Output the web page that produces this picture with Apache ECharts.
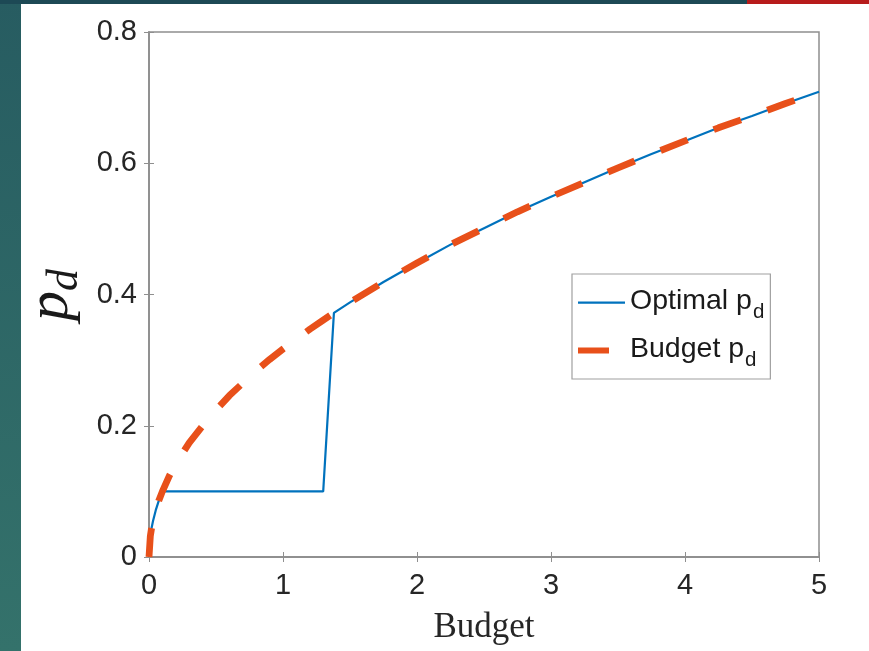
<!DOCTYPE html>
<html>
<head>
<meta charset="utf-8">
<script src="https://cdn.jsdelivr.net/npm/echarts@6/dist/echarts.min.js"></script>
<style>
html,body{margin:0;padding:0;background:#fff;}
#c{width:869px;height:651px;}
</style>
</head>
<body>
<div id="c"></div>
<script>
// Data
var optimalX = [0, 0.01, 0.02, 0.03, 0.05, 0.075, 0.1, 1.3, 1.38, 1.5, 1.75, 2, 2.25, 2.5, 2.75, 3, 3.25, 3.5, 3.75, 4, 4.25, 4.5, 4.75, 5];
var optimalY = [0, 0.032, 0.045, 0.055, 0.071, 0.087, 0.1, 0.1, 0.372, 0.388, 0.419, 0.448, 0.476, 0.501, 0.526, 0.549, 0.571, 0.593, 0.614, 0.634, 0.654, 0.672, 0.691, 0.709];
var budgetX = [0, 0.01, 0.02, 0.03, 0.05, 0.075, 0.1, 0.15, 0.2, 0.3, 0.4, 0.5, 0.6, 0.7, 0.8, 0.9, 1, 1.1, 1.2, 1.3, 1.38, 1.5, 1.75, 2, 2.25, 2.5, 2.75, 3, 3.25, 3.5, 3.75, 4, 4.25, 4.5, 4.75, 5];
var budgetY = [0, 0.032, 0.045, 0.055, 0.071, 0.087, 0.1, 0.123, 0.142, 0.174, 0.2, 0.224, 0.246, 0.265, 0.284, 0.301, 0.317, 0.332, 0.347, 0.361, 0.372, 0.388, 0.419, 0.448, 0.476, 0.501, 0.526, 0.549, 0.571, 0.593, 0.614, 0.634, 0.654, 0.672, 0.691, 0.709];
var xTicks = [0, 1, 2, 3, 4, 5];
var yTicks = [0, 0.2, 0.4, 0.6, 0.8];
var seriesNames = ['Optimal', 'Budget'];
var xLabel = 'Budget';

function pairs(xs, ys) { return xs.map(function (x, i) { return [x, ys[i]]; }); }

var chart = echarts.init(document.getElementById('c'), null, {renderer: 'canvas'});
var tickFont = {fontFamily: 'Liberation Sans, Arial, sans-serif', fontSize: 29, color: '#262626'};
var axisCol = '#8f8f8f';
var blue = '#0072BD', orange = '#E8501A';

chart.setOption({
  backgroundColor: '#ffffff',
  animation: false,
  grid: {left: 149, right: 50, top: 32, bottom: 94, show: true, borderColor: axisCol, borderWidth: 1.5},
  xAxis: [{
    type: 'value', min: xTicks[0], max: xTicks[xTicks.length - 1], interval: 1,
    axisLine: {show: true, lineStyle: {color: axisCol, width: 1.5}},
    axisTick: {show: true, inside: true, length: 5, lineStyle: {color: axisCol}},
    splitLine: {show: false},
    axisLabel: Object.assign({margin: 14}, tickFont),
    name: xLabel, nameLocation: 'middle', nameGap: 53,
    nameTextStyle: {fontFamily: 'Liberation Serif, Times New Roman, serif', fontSize: 35, color: '#262626'}
  }, {
    type: 'value', position: 'top', min: xTicks[0], max: xTicks[xTicks.length - 1], interval: 1,
    axisLine: {show: true, lineStyle: {color: axisCol, width: 1.5}},
    axisTick: {show: true, inside: true, length: 5, lineStyle: {color: axisCol}},
    axisLabel: {show: false}, splitLine: {show: false}
  }],
  yAxis: [{
    type: 'value', min: yTicks[0], max: yTicks[yTicks.length - 1], interval: 0.2,
    axisLine: {show: true, lineStyle: {color: axisCol, width: 1.5}},
    axisTick: {show: true, inside: true, length: 5, lineStyle: {color: axisCol}},
    splitLine: {show: false},
    axisLabel: Object.assign({margin: 12}, tickFont)
  }, {
    type: 'value', position: 'right', min: yTicks[0], max: yTicks[yTicks.length - 1], interval: 0.2,
    axisLine: {show: true, lineStyle: {color: axisCol, width: 1.5}},
    axisTick: {show: true, inside: true, length: 5, lineStyle: {color: axisCol}},
    axisLabel: {show: false}, splitLine: {show: false}
  }],
  legend: {
    orient: 'vertical', left: 572, top: 274,
    data: [
      {name: seriesNames[0], icon: 'path://M0,0L0.001,0M47,14L47.001,14M0,6L47,6L47,8.2L0,8.2Z', itemStyle: {color: blue, borderWidth: 0}},
      {name: seriesNames[1], icon: 'path://M0,0L0.001,0M47,14L47.001,14M0,4L31,4L31,10L0,10Z', itemStyle: {color: orange, borderWidth: 0}}
    ],
    itemWidth: 47, itemHeight: 14, itemGap: 12,
    padding: [13, 6, 8, 6],
    borderColor: '#a0a0a0', borderWidth: 1.2, backgroundColor: '#fff',
    formatter: function (n) { return '{a|' + n + ' p}{s|d}'; },
    textStyle: {
      rich: {
        a: {fontFamily: 'Liberation Sans, Arial, sans-serif', fontSize: 28.5, color: '#1a1a1a', verticalAlign: 'top', lineHeight: 31},
        s: {fontFamily: 'Liberation Sans, Arial, sans-serif', fontSize: 20.5, color: '#1a1a1a', verticalAlign: 'top', padding: [15, 0, 0, 1], lineHeight: 31}
      }
    }
  },
  series: [{
    name: seriesNames[0], type: 'line', data: pairs(optimalX, optimalY),
    showSymbol: false, symbol: 'none', z: 2,
    lineStyle: {color: blue, width: 2.2},
    itemStyle: {color: blue}
  }, {
    name: seriesNames[1], type: 'line', data: pairs(budgetX, budgetY),
    showSymbol: false, symbol: 'none', z: 3,
    lineStyle: {color: orange, width: 6.8, type: [29, 28], cap: 'butt'},
    itemStyle: {color: orange}
  }],
  graphic: [
    {type: 'rect', shape: {x: 0, y: 0, width: 21, height: 651}, z: 100,
     style: {fill: new echarts.graphic.LinearGradient(0, 0, 0, 1, [{offset: 0, color: '#275c61'}, {offset: 1, color: '#34726b'}])}},
    {type: 'rect', shape: {x: 0, y: 0, width: 747, height: 4}, z: 100, style: {fill: '#1d4955'}},
    {type: 'rect', shape: {x: 747, y: 0, width: 122, height: 4}, z: 100, style: {fill: '#b71b1b'}},
    {type: 'text', x: 51, y: 295, rotation: Math.PI / 2, z: 100,
     style: {
       text: '{p|p}{d|d}', align: 'center', verticalAlign: 'middle',
       rich: {
         p: {fontFamily: 'Liberation Serif, Times New Roman, serif', fontStyle: 'italic', fontSize: 60, fill: '#1a1a1a', verticalAlign: 'top', lineHeight: 60},
         d: {fontFamily: 'Liberation Serif, Times New Roman, serif', fontStyle: 'italic', fontSize: 44, fill: '#1a1a1a', verticalAlign: 'top', padding: [22, 0, 0, 0], lineHeight: 60}
       }
     }}
  ]
});
</script>
</body>
</html>
